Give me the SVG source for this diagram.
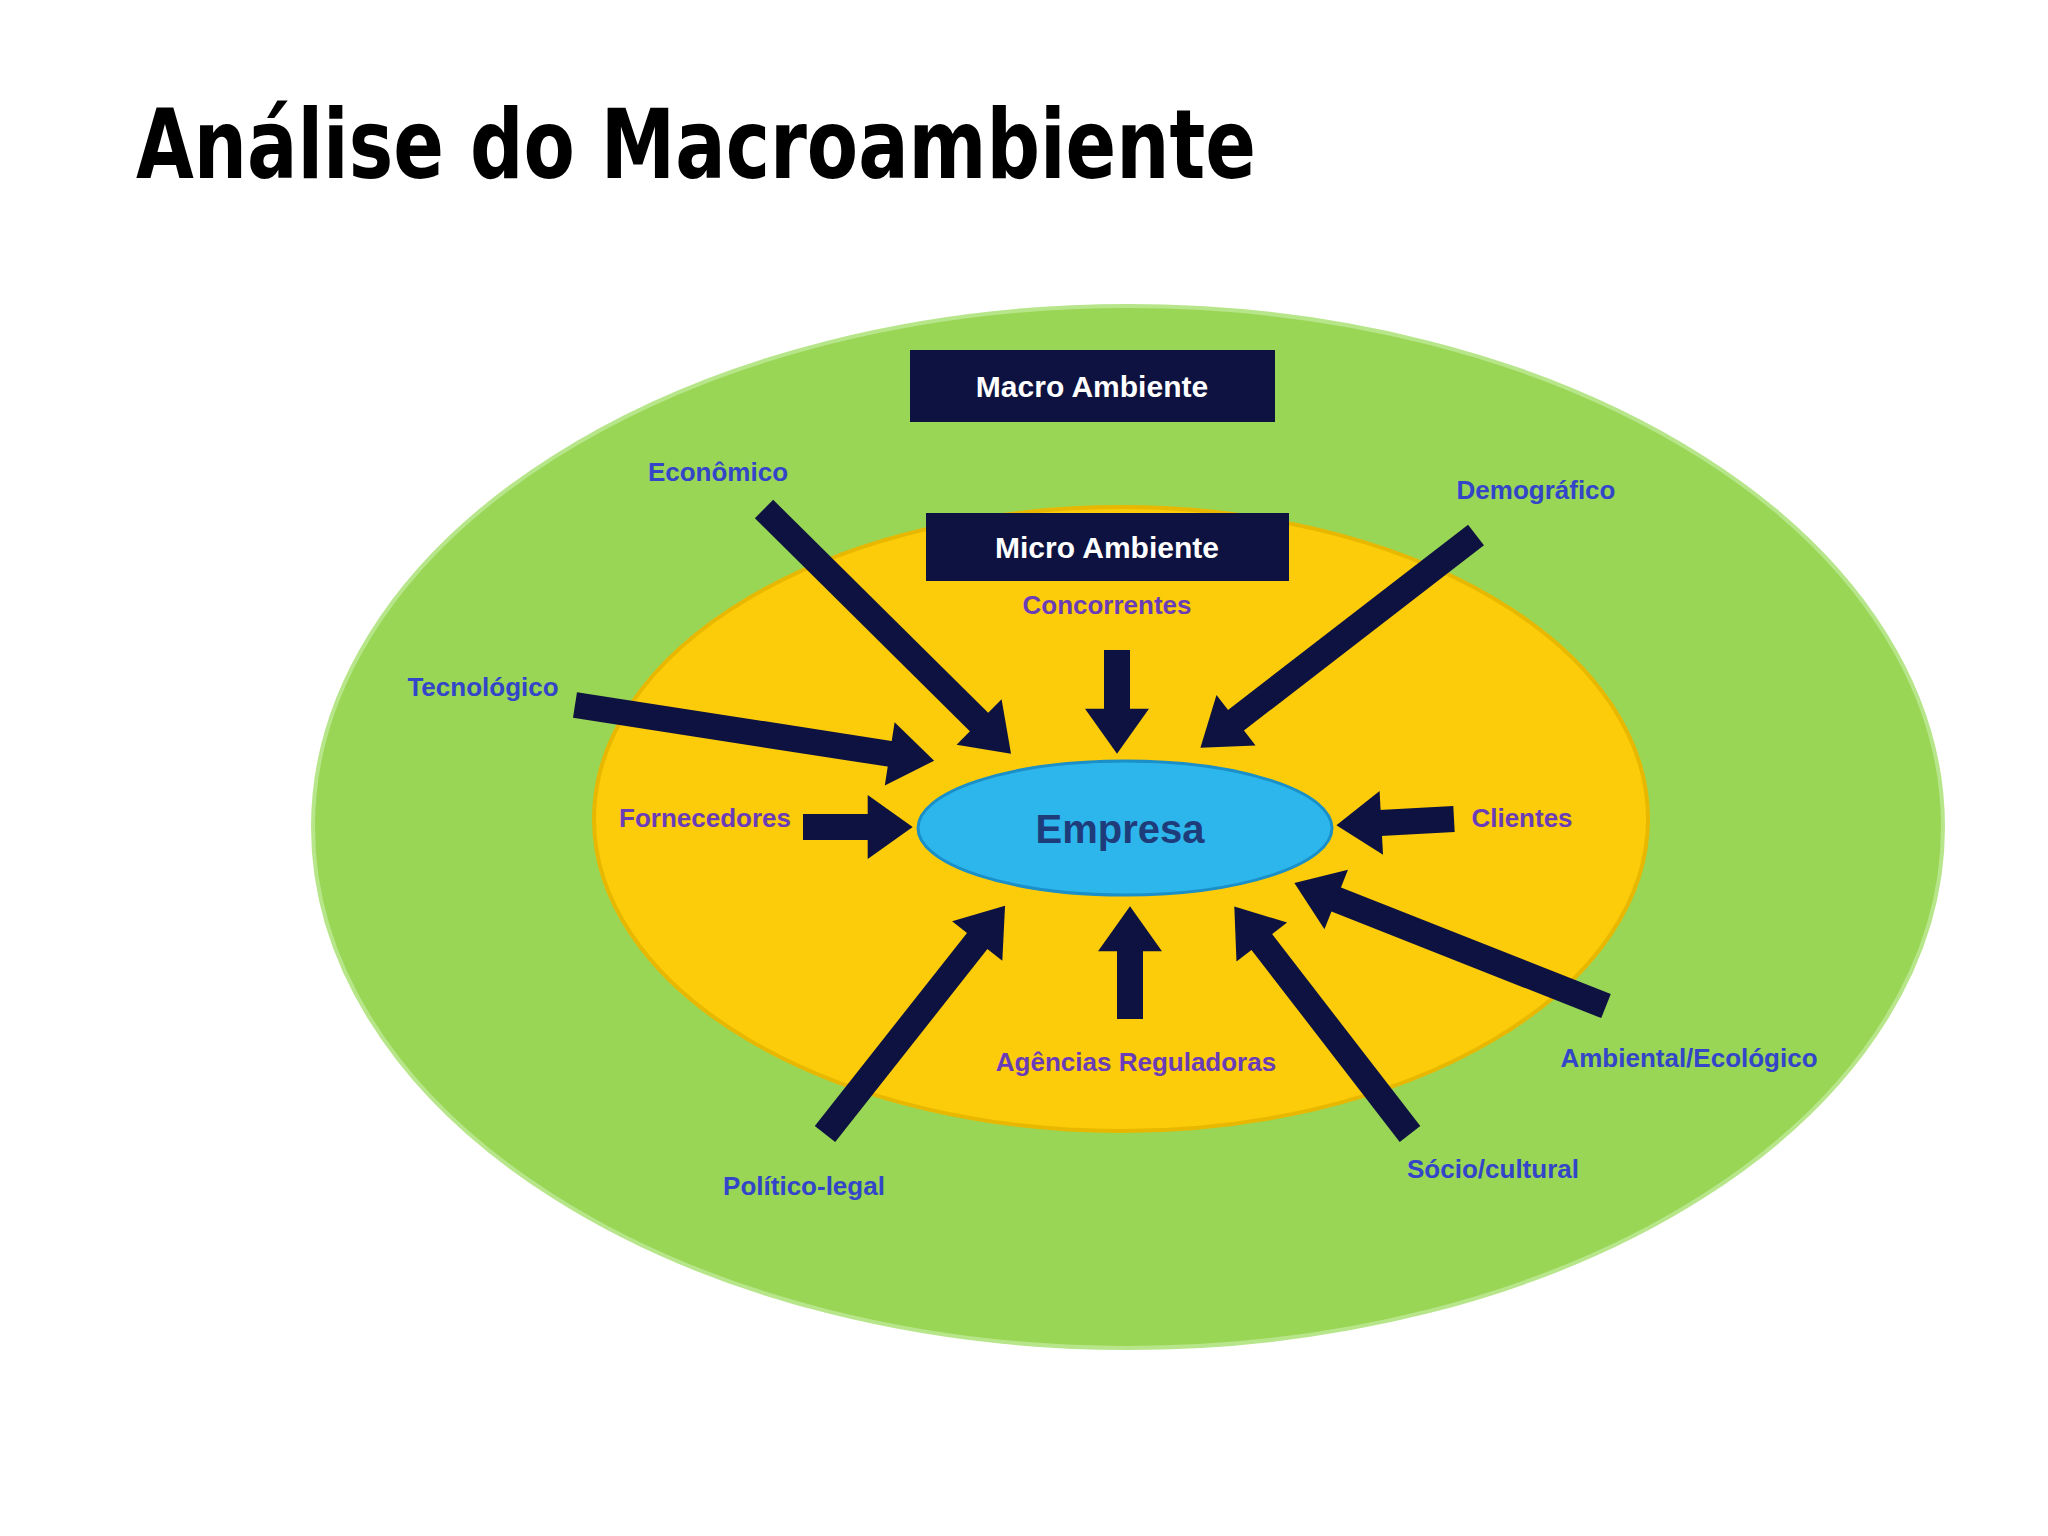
<svg xmlns="http://www.w3.org/2000/svg" width="2048" height="1536" viewBox="0 0 2048 1536">
<style>
.lb{font-family:"Liberation Sans","DejaVu Sans",sans-serif;font-size:26px;font-weight:bold;text-anchor:middle}
.blue{fill:#3345c8}
.pur{fill:#6a3cb8}
.box{fill:#0d1240}
.bt{font-family:"Liberation Sans",sans-serif;font-size:30px;font-weight:bold;fill:#fff;text-anchor:middle}
.ar{stroke:#0d1240;stroke-width:26;marker-end:url(#h)}
</style>
<defs>
<marker id="h" markerUnits="strokeWidth" markerWidth="2" markerHeight="3" viewBox="0 -1.5 2 3" refX="0.05" refY="0" orient="auto" overflow="visible">
<path d="M0,-1.23 L1.73,0 L0,1.23 z" fill="#0d1240"/>
</marker>
</defs>
<rect width="2048" height="1536" fill="#fff"/>
<text x="136" y="178" font-family="'DejaVu Sans Condensed','DejaVu Sans',sans-serif" font-weight="bold" font-size="96" textLength="1120" lengthAdjust="spacingAndGlyphs">Análise do Macroambiente</text>
<g id="macro"><ellipse cx="1128" cy="827" rx="815" ry="521" fill="#99d655" stroke="#b7e58a" stroke-width="4"/></g>
<g id="micro"><ellipse cx="1121" cy="819" rx="527" ry="312" fill="#fccc0a" stroke="#e8b800" stroke-width="4"/></g>
<g id="macrobox"><rect class="box" x="910" y="350" width="365" height="72"/><text class="bt" x="1092" y="397">Macro Ambiente</text></g>
<g id="microbox"><rect class="box" x="926" y="513" width="363" height="68"/><text class="bt" x="1107" y="558">Micro Ambiente</text></g>
<g id="empresa"><ellipse cx="1125" cy="828" rx="207" ry="67" fill="#2db6ec" stroke="#1a8fc8" stroke-width="3"/><text x="1120" y="843" font-family="'Liberation Sans',sans-serif" font-size="40" font-weight="bold" fill="#1f3c7a" text-anchor="middle">Empresa</text></g>
<g id="labels">
<text class="lb blue" x="718" y="481">Econômico</text>
<text class="lb blue" x="1536" y="499">Demográfico</text>
<text class="lb pur" x="1107" y="614">Concorrentes</text>
<text class="lb blue" x="483" y="696">Tecnológico</text>
<text class="lb pur" x="705" y="827">Fornecedores</text>
<text class="lb pur" x="1522" y="827">Clientes</text>
<text class="lb pur" x="1136" y="1071">Agências Reguladoras</text>
<text class="lb blue" x="1689" y="1067">Ambiental/Ecológico</text>
<text class="lb blue" x="804" y="1195">Político-legal</text>
<text class="lb blue" x="1493" y="1178">Sócio/cultural</text>
</g>
<g id="connectors">
<line class="ar" x1="764" y1="509" x2="980" y2="723"/>
<line class="ar" x1="1476" y1="535" x2="1235" y2="721"/>
<line class="ar" x1="1117" y1="650" x2="1117" y2="710"/>
<line class="ar" x1="575" y1="705" x2="891" y2="754"/>
<line class="ar" x1="803" y1="827" x2="869" y2="827"/>
<line class="ar" x1="1454" y1="819" x2="1380" y2="823"/>
<line class="ar" x1="1606" y1="1006" x2="1335" y2="899"/>
<line class="ar" x1="1410" y1="1134" x2="1261" y2="941"/>
<line class="ar" x1="1130" y1="1019" x2="1130" y2="950"/>
<line class="ar" x1="825" y1="1134" x2="978" y2="940"/>
</g>
</svg>
